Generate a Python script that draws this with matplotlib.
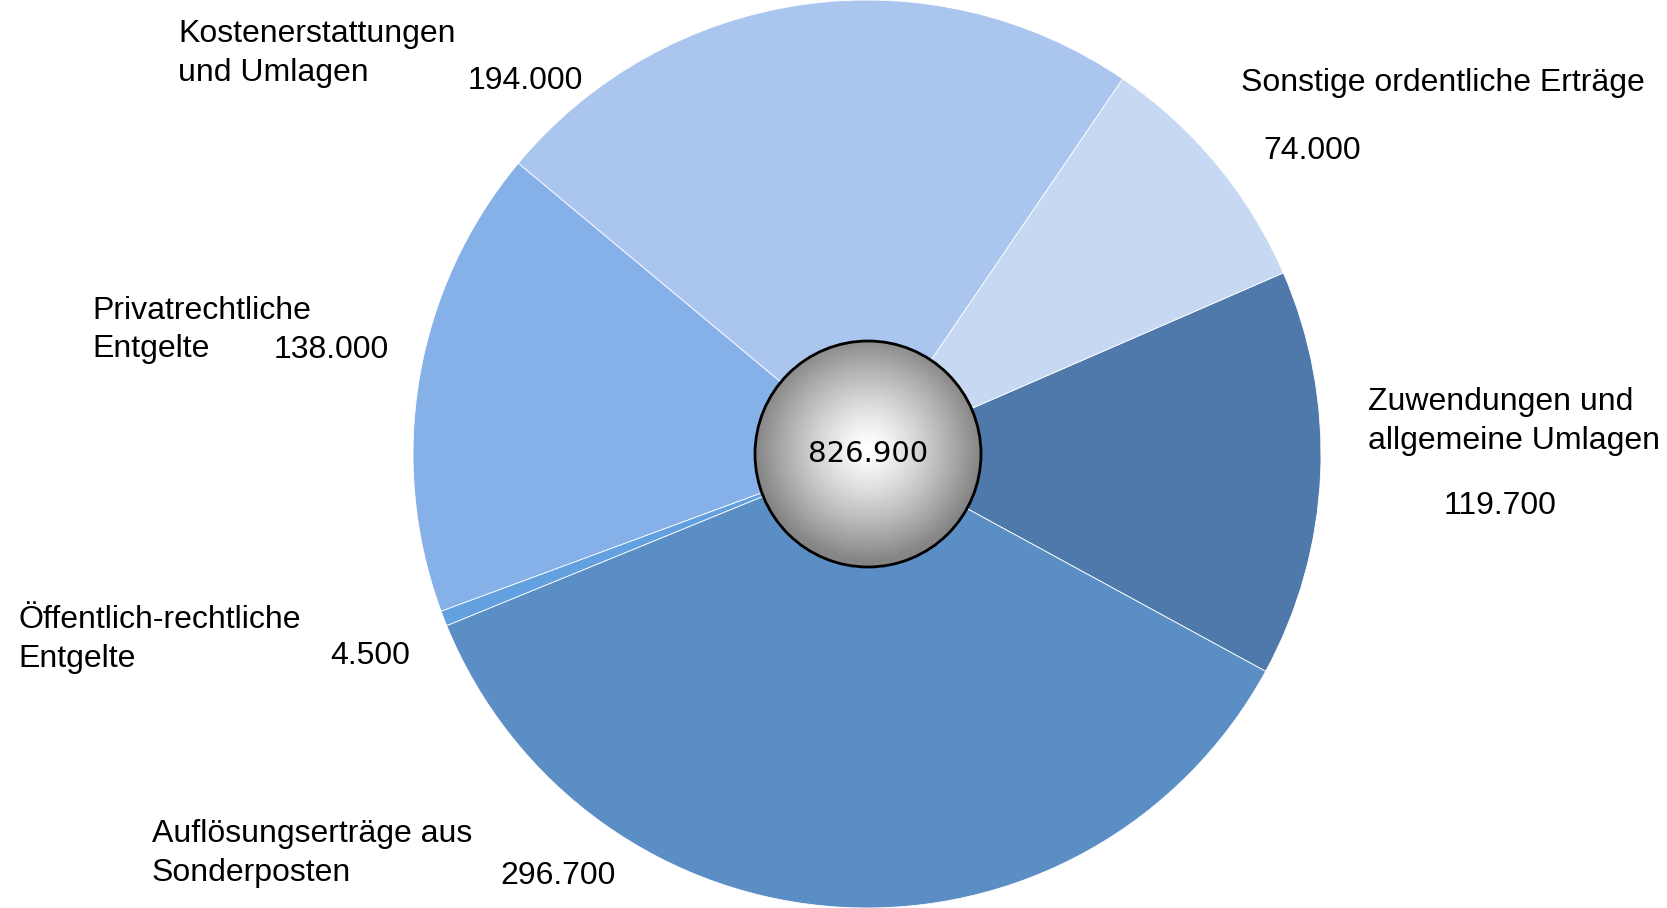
import numpy as np
import matplotlib
matplotlib.use('Agg')
import matplotlib.pyplot as plt
from matplotlib.patches import Circle

labels = ['Zuwendungen und\nallgemeine Umlagen', 'Sonstige ordentliche Erträge',
          'Kostenerstattungen\nund Umlagen', 'Privatrechtliche\nEntgelte',
          'Öffentlich-rechtliche\nEntgelte', 'Auflösungserträge aus\nSonderposten']
values = [119.7, 74.0, 194.0, 138.0, 4.5, 296.7]
value_text = ['119.700', '74.000', '194.000', '138.000', '4.500', '296.700']
total_text = '826.900'
colors = ['#4F79AA', '#C7D9F2', '#AAC6EE', '#86B1E8', '#62A0E0', '#5B8EC5']

# label / value positions in pixels (from top-left), first line centres
label_pos = [(1368, 402), (1241, 83), (178, 34), (92, 311), (18, 620), (152, 834)]
value_pos = [(1444, 506), (1263, 151), (468, 81), (274, 350), (330, 656), (500, 876)]
line_gap = 38.5

W, H = 1667, 908
plt.rcParams['font.family'] = ['Liberation Sans', 'DejaVu Sans']
fig = plt.figure(figsize=(W / 100, H / 100), dpi=100)
ax = fig.add_axes([0, 0, 1, 1])

cx, cy, r = 867, H - 454, 454
ax.pie(values, colors=colors, startangle=-28.6, counterclock=True,
       center=(cx, cy), radius=r, frame=True,
       wedgeprops=dict(edgecolor='white', linewidth=0.6))
ax.set_xlim(0, W)
ax.set_ylim(0, H)
ax.axis('off')

for lab, (x, y) in zip(labels, label_pos):
    for i, line in enumerate(lab.split('\n')):
        ax.text(x, H - y - i * line_gap, line, fontsize=23, ha='left', va='center')

for v, (x, y) in zip(value_text, value_pos):
    ax.text(x, H - y, v, fontsize=23, ha='left', va='center')

# center ball with radial gradient
bx, by, br = 868, H - 454, 113
yy, xx = np.mgrid[-1:1:300j, -1:1:300j]
d = np.clip(np.sqrt(xx ** 2 + (yy + 0.05) ** 2), 0, 1)
shade = 1.0 - 0.48 * d ** 1.3
img = ax.imshow(shade, cmap='gray', vmin=0, vmax=1,
                extent=(bx - br, bx + br, by - br, by + br), zorder=3)
clip = Circle((bx, by), br, transform=ax.transData)
img.set_clip_path(clip)
ax.add_patch(Circle((bx, by), br, fill=False, edgecolor='black', linewidth=2, zorder=4))
ax.text(bx, by, total_text, fontsize=21, ha='center', va='center',
        family='DejaVu Sans', zorder=5)
ax.set_aspect('auto')

fig.savefig('out.png', dpi=100)
